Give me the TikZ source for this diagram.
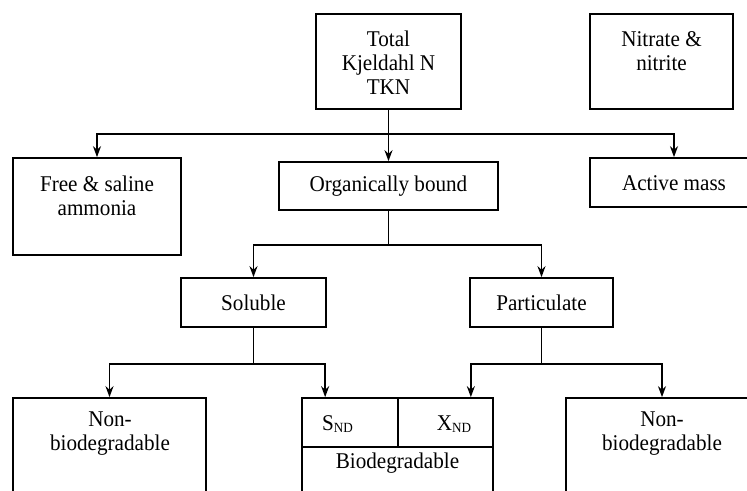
\documentclass[tikz,border=0pt]{standalone}
\usepackage{fontspec}
\setmainfont{Liberation Serif}[FakeStretch=0.94]
\usetikzlibrary{arrows.meta,calc}
\tikzset{
  box/.style={draw, line width=1.7pt, inner sep=0pt},
  txt/.style={align=center, inner sep=0pt, font=\fontsize{22.5}{24}\selectfont},
  arr/.style={line width=1.7pt, -{Stealth[length=11pt,width=8pt]}},
  ln/.style={line width=1.7pt},
}
\begin{document}
\begin{tikzpicture}[x=1pt,y=-1pt]
\useasboundingbox (0,0) rectangle (747,490);
\clip (0,0) rectangle (747,490);
% boxes
\node[box, minimum width=145pt, minimum height=95pt] (tkn) at (388.5,61.5) {};
\node[box, minimum width=143pt, minimum height=95pt] (nit) at (661.5,61.5) {};
\node[box, minimum width=168pt, minimum height=97pt] (free) at (97,206.5) {};
\node[box, minimum width=219pt, minimum height=48pt] (org) at (388.5,186) {};
\node[box, minimum width=168pt, minimum height=49pt] (act) at (674,182.5) {};
\node[box, minimum width=145pt, minimum height=49pt] (sol) at (253.5,302.5) {};
\node[box, minimum width=143pt, minimum height=49pt] (par) at (541.5,302.5) {};
\node[box, minimum width=193pt, minimum height=120pt] (nb1) at (109.5,458) {};
\node[box, minimum width=191pt, minimum height=120pt] (bio) at (397.5,458) {};
\node[box, minimum width=192pt, minimum height=120pt] (nb2) at (662,458) {};
\coordinate (biosplit) at (398,447);
\draw[ln] (bio.west |- biosplit) -- (bio.east |- biosplit);
\draw[ln] (bio.north -| biosplit) -- (biosplit);
% texts
\node[txt] (tkntext) at (388.5,63) {Total\\Kjeldahl N\\TKN};
\node[txt] (nittext) at (661.5,51.5) {Nitrate \&\\nitrite};
\node[txt] (freetext) at (97,196) {Free \& saline\\ammonia};
\node[txt] (orgtext) at (388.5,186) {Organically bound};
\node[txt] (acttext) at (674,183) {Active mass};
\node[txt] (soltext) at (253.5,302.5) {Soluble};
\node[txt] (partext) at (541.5,302.5) {Particulate};
\node[txt] (nb1text) at (110,434) {Non-\\biodegradable};
\node[txt] (nb2text) at (662,434) {Non-\\biodegradable};
\node[txt] (sndtext) at (337.5,424) {S\raisebox{-2pt}{\fontsize{14}{14}\selectfont ND}};
\node[txt] (xndtext) at (454,424) {X\raisebox{-2pt}{\fontsize{14}{14}\selectfont ND}};
\node[txt] (biotext) at (397.5,463) {Biodegradable};
% connectors
\coordinate (j1) at ($(tkn.south)+(0,24)$);
\draw[arr] (tkn.south) -- (org.north);
\draw[arr] (j1) -| (free.north);
\draw[arr] (j1) -| (act.north);
\coordinate (j2) at ($(org.south)+(0,34)$);
\draw[ln] (org.south) -- (j2);
\draw[arr] (j2) -| (sol.north);
\draw[arr] (j2) -| (par.north);
\coordinate (j3) at ($(sol.south)+(0,36)$);
\draw[ln] (sol.south) -- (j3);
\draw[arr] (j3) -| (nb1.north);
\draw[arr] (j3) -| ([xshift=24pt]bio.north west);
\coordinate (j4) at ($(par.south)+(0,36)$);
\draw[ln] (par.south) -- (j4);
\draw[arr] (j4) -| ([xshift=-23pt]bio.north east);
\draw[arr] (j4) -| (nb2.north);
\end{tikzpicture}
\end{document}
